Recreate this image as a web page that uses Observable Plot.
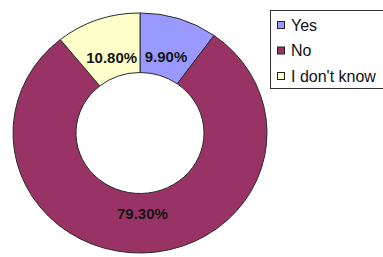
<!DOCTYPE html>
<html>
<head>
<meta charset="utf-8">
<script src="https://cdn.jsdelivr.net/npm/d3@7"></script>
<script src="https://cdn.jsdelivr.net/npm/@observablehq/plot@0.6"></script>
<style>
  html, body { margin: 0; padding: 0; background: #fff; }
  #chart { width: 383px; height: 257px; overflow: hidden; }
</style>
</head>
<body>
<div id="chart"></div>
<script>
const answers = ["Yes", "No", "I don't know"];
const percents = [9.9, 79.3, 10.8];
const colors = ["#9999FF", "#993366", "#FFFFCC"];
const labels = ["9.90%", "79.30%", "10.80%"];

const data = answers.map((a, i) => ({answer: a, value: percents[i], label: labels[i]}));

const cx = 140, cy = 133, rOuter = 127, rInner = 64, sy = 0.945, rLabel = 85;

function donut(index, scales, values, dims, context) {
  const color = scales.color || d3.scaleOrdinal(answers, colors);
  const svgNS = "http://www.w3.org/2000/svg";
  const g = d3.select(context.document.createElementNS(svgNS, "g"));
  const pie = d3.pie().sort(null).value(d => d.value);
  const arcs = pie(data);
  const arc = d3.arc().innerRadius(rInner).outerRadius(rOuter);
  const ring = g.append("g").attr("transform", `translate(${cx},${cy}) scale(1,${sy})`);
  ring.selectAll("path").data(arcs).join("path")
    .attr("d", arc)
    .attr("fill", d => color(d.data.answer))
    .attr("stroke", "#2a2a2a")
    .attr("stroke-width", 1)
    .attr("vector-effect", "non-scaling-stroke");
  const labelArc = d3.arc().innerRadius(rLabel).outerRadius(rLabel);
  g.append("g").selectAll("text").data(arcs).join("text")
    .attr("x", d => cx + labelArc.centroid(d)[0])
    .attr("y", d => cy + labelArc.centroid(d)[1] * sy)
    .attr("text-anchor", "middle")
    .attr("dominant-baseline", "central")
    .attr("font-family", "Liberation Sans, Arial, sans-serif")
    .attr("font-weight", "bold")
    .attr("font-size", 15)
    .attr("fill", "#151515")
    .text(d => d.data.label);
  return g.node();
}

function legend(index, scales, values, dims, context) {
  const color = scales.color || d3.scaleOrdinal(answers, colors);
  const svgNS = "http://www.w3.org/2000/svg";
  const g = d3.select(context.document.createElementNS(svgNS, "g"));
  g.append("rect")
    .attr("x", 270.5).attr("y", 10.5).attr("width", 120).attr("height", 78)
    .attr("fill", "#fff").attr("stroke", "#333").attr("stroke-width", 1);
  const items = g.selectAll("g.item").data(answers).join("g")
    .attr("transform", (d, i) => `translate(0, ${25 + i * 25.5})`);
  items.append("rect")
    .attr("x", 277.5).attr("y", -3.5).attr("width", 7).attr("height", 7)
    .attr("fill", d => color(d)).attr("stroke", "#222").attr("stroke-width", 1);
  items.append("text")
    .attr("x", 291).attr("y", 0)
    .attr("text-anchor", "start")
    .attr("dominant-baseline", "central")
    .attr("font-family", "Liberation Sans, Arial, sans-serif")
    .attr("font-size", 16)
    .attr("fill", "#111")
    .text(d => d);
  return g.node();
}

const chart = Plot.plot({
  width: 383,
  height: 257,
  margin: 0,
  x: {axis: null},
  y: {axis: null},
  color: {domain: answers, range: colors},
  style: {background: "#fff", overflow: "hidden"},
  marks: [donut, legend]
});
document.getElementById("chart").appendChild(chart);
</script>
</body>
</html>
